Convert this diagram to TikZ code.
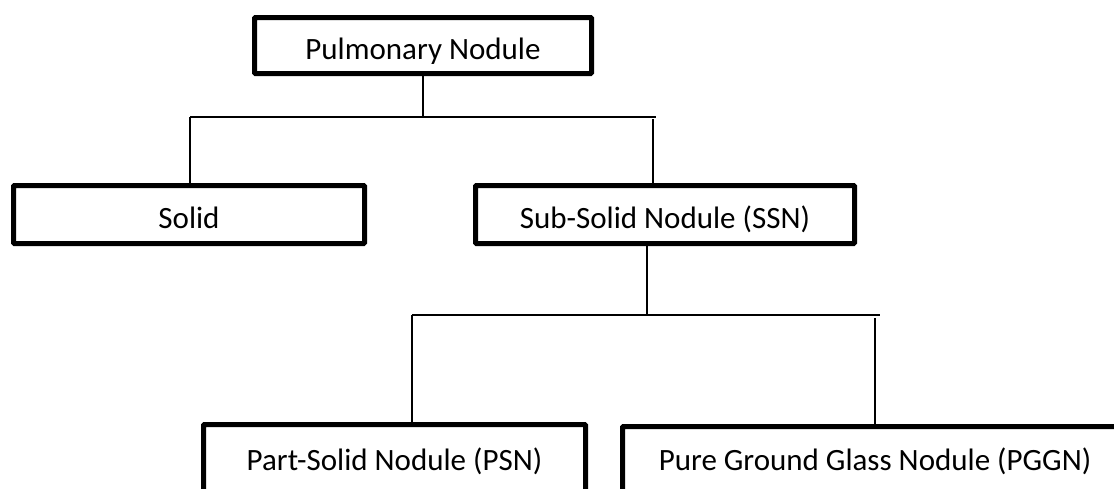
\documentclass[tikz,border=0pt]{standalone}
\usepackage{fontspec}
\setmainfont{Carlito}
\begin{document}
\begin{tikzpicture}[x=1pt,y=-1pt,
  box/.style={draw, line width=5pt, rounded corners=1pt, inner sep=0pt,
    font=\fontsize{31}{36}\selectfont, fill=white,
    text height=27pt, text depth=0pt},
  conn/.style={line width=2.6pt}]
\useasboundingbox (0,0) rectangle (1114,488);
\clip (0,0) rectangle (1114,488);

% boxes
\node[box, minimum width=337pt, minimum height=56pt] (pn) at (423,45.5) {Pulmonary Nodule};
\node[box, minimum width=351pt, minimum height=58pt] (solid) at (189,214.5) {Solid};
\node[box, minimum width=379pt, minimum height=58pt] (ssn) at (665,214.5) {Sub-Solid Nodule (SSN)};
\node[box, minimum width=382pt, minimum height=73pt, text depth=9pt] (psn) at (394.5,461) {Part-Solid Nodule (PSN)};
\node[box, minimum width=505pt, minimum height=73pt, text depth=13pt] (pggn) at (875,463) {Pure Ground Glass Nodule (PGGN)\hspace{15pt}};

% first split
\coordinate (b1l) at (190,117);
\coordinate (b1r) at (656,117);
\coordinate (b1j) at (653,119);
\draw[conn] (pn.south) -- (pn.south |- b1l);
\draw[conn] (b1l) -- (b1r);
\draw[conn] (b1l) -- (b1l |- solid.north);
\draw[conn] (b1j) -- (b1j |- ssn.north);

% second split
\coordinate (s2) at (647,246);
\coordinate (b2l) at (412,315);
\coordinate (b2r) at (880,315);
\coordinate (b2j) at (875,318);
\draw[conn] (s2) -- (s2 |- b2l);
\draw[conn] (b2l) -- (b2r);
\draw[conn] (b2l) -- (b2l |- psn.north);
\draw[conn] (b2j) -- (b2j |- pggn.north);
\end{tikzpicture}
\end{document}
